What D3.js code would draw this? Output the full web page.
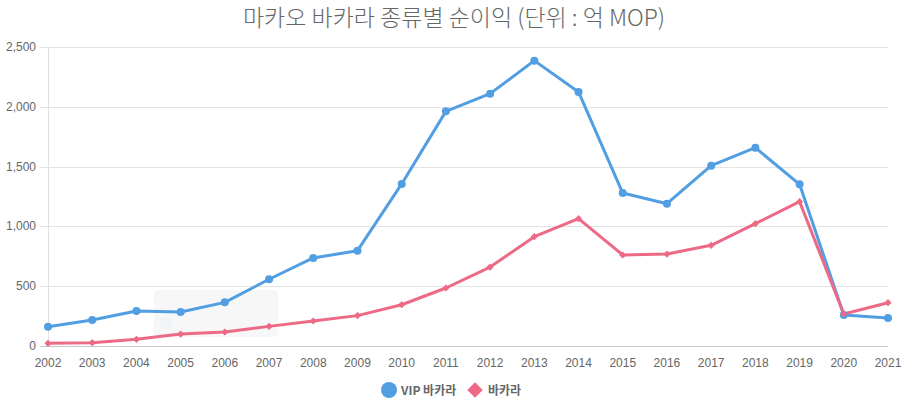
<!DOCTYPE html>
<html><head><meta charset="utf-8">
<script src="https://cdn.jsdelivr.net/npm/d3@7"></script>
<style>body{margin:0;background:#fff;}svg{display:block;font-family:"Liberation Sans",Arial,sans-serif;}</style>
</head><body><svg id="c" width="906" height="407"></svg>
<script>
const years = ["2002","2003","2004","2005","2006","2007","2008","2009","2010","2011","2012","2013","2014","2015","2016","2017","2018","2019","2020","2021"];
const vipBaccarat = [161,217,293,284,365,558,736,797,1355,1962,2110,2386,2124,1279,1190,1508,1658,1352,259,234];
const baccarat = [22,28,56,100,117,164,209,254,345,485,660,914,1065,761,769,842,1023,1207,268,362];
const yTicks = [0,500,1000,1500,2000,2500];
const seriesNames = ["VIP 바카라","바카라"];
const colors = ["#529ee3","#ec6a86"];

const svg = d3.select("#c");
const x = d3.scalePoint().domain(years).range([48,888]);
const y = d3.scaleLinear().domain([0,2500]).range([346,47]);

svg.append("text").attr("x",454).attr("y",26).attr("text-anchor","middle")
  .attr("font-size",23).attr("font-weight",300).attr("fill","#666").attr("font-family","'Noto Sans CJK KR',sans-serif")
  .text("마카오 바카라 종류별 순이익 (단위 : 억 MOP)");

// grid
const gy = svg.append("g");
yTicks.forEach(t=>{
  gy.append("line").attr("x1",40).attr("x2",888).attr("y1",Math.round(y(t))+0.5).attr("y2",Math.round(y(t))+0.5)
    .attr("stroke", t===0 ? "#c8c8c8" : "#e4e4e4").attr("stroke-width",1);
  gy.append("text").attr("x",36).attr("y",y(t)+4).attr("text-anchor","end").attr("font-size",12).attr("fill","#666")
    .text(d3.format(",")(t));
});
svg.append("line").attr("x1",48.5).attr("x2",48.5).attr("y1",47).attr("y2",346).attr("stroke","#e0e0e0");

// x labels
years.forEach(yr=>{
  svg.append("text").attr("x",x(yr)).attr("y",367).attr("text-anchor","middle").attr("font-size",12).attr("fill","#666").text(yr);
});

// faint tooltip remnant
svg.append("rect").attr("x",154).attr("y",290).attr("width",124).attr("height",47).attr("rx",5).attr("fill","#f7f7f8");
svg.append("rect").attr("x",160).attr("y",318).attr("width",12).attr("height",11).attr("fill","#f1f4f7");

const line = d3.line().x((d,i)=>x(years[i])).y(d=>y(d));
[vipBaccarat, baccarat].forEach((data,k)=>{
  svg.append("path").attr("d",line(data)).attr("fill","none").attr("stroke",colors[k]).attr("stroke-width",3).attr("stroke-linejoin","round");
});
svg.selectAll(".p1").data(vipBaccarat).enter().append("circle")
  .attr("cx",(d,i)=>x(years[i])).attr("cy",d=>y(d)).attr("r",4).attr("fill",colors[0]);
svg.selectAll(".p2").data(baccarat).enter().append("path")
  .attr("d",d3.symbol().type(d3.symbolSquare).size(26)())
  .attr("transform",(d,i)=>`translate(${x(years[i])},${y(d)}) rotate(45)`)
  .attr("fill",colors[1]);

// legend
const lg = svg.append("g");
lg.append("circle").attr("cx",389).attr("cy",390).attr("r",8).attr("fill",colors[0]);
lg.append("text").attr("x",401).attr("y",394.5).attr("font-size",12).attr("font-weight","bold").attr("fill","#666")
  .attr("font-family","'Noto Sans CJK KR',sans-serif").text(seriesNames[0]);
lg.append("path").attr("d",d3.symbol().type(d3.symbolSquare).size(120)()).attr("transform","translate(475,390) rotate(45)").attr("fill",colors[1]);
lg.append("text").attr("x",488).attr("y",394.5).attr("font-size",12).attr("font-weight","bold").attr("fill","#666")
  .attr("font-family","'Noto Sans CJK KR',sans-serif").text(seriesNames[1]);
</script></body></html>
